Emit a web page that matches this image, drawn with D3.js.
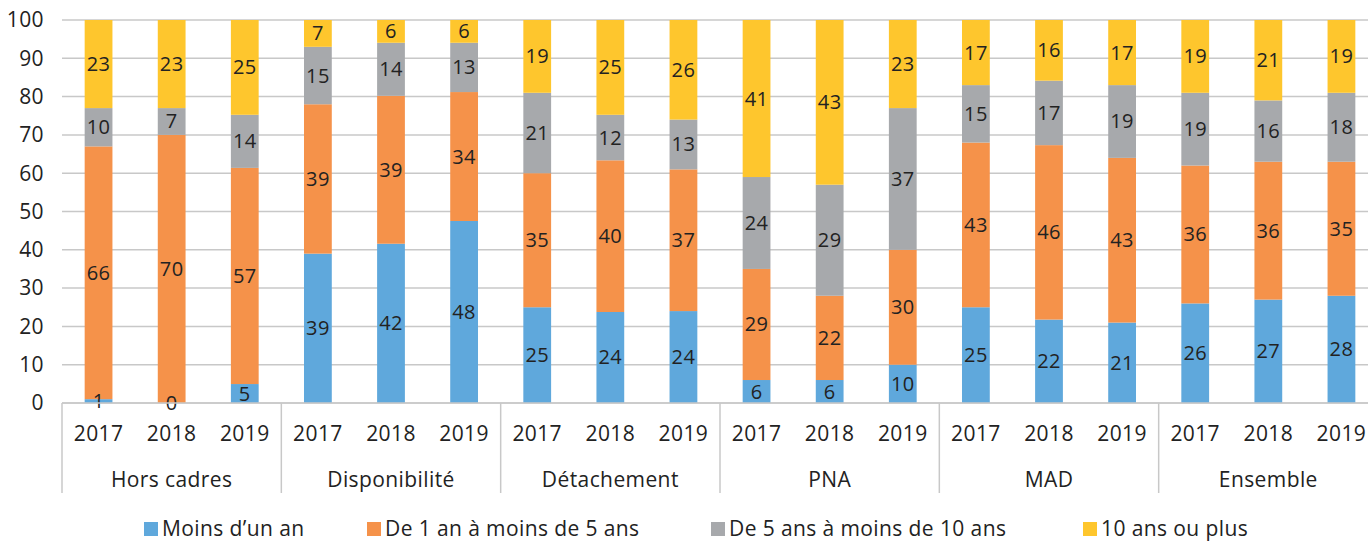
<!DOCTYPE html>
<html>
<head>
<meta charset="utf-8">
<script src="https://cdn.jsdelivr.net/npm/d3@7"></script>
<style>
  body { margin: 0; background: #fff; }
  text { font-family: "Open Sans", sans-serif; fill: #222; letter-spacing: 0.4px; }
</style>
</head>
<body>
<div id="plot"></div>
<script>
const groups = ["Hors cadres", "Disponibilité", "Détachement", "PNA", "MAD", "Ensemble"];
const years = ["2017", "2018", "2019"];
const seriesNames = ["Moins d’un an", "De 1 an à moins de 5 ans", "De 5 ans à moins de 10 ans", "10 ans ou plus"];
const colors = ["#5fa8dc", "#f5924a", "#a7a9ac", "#fec62d"];

// values per group, in year order
const moinsUnAn   = [[1, 0, 5], [39, 42, 48], [25, 24, 24], [6, 6, 10], [25, 22, 21], [26, 27, 28]];
const unACinq     = [[66, 70, 57], [39, 39, 34], [35, 40, 37], [29, 22, 30], [43, 46, 43], [36, 36, 35]];
const cinqADix    = [[10, 7, 14], [15, 14, 13], [21, 12, 13], [24, 29, 37], [15, 17, 19], [19, 16, 18]];
const dixEtPlus   = [[23, 23, 25], [7, 6, 6], [19, 25, 26], [41, 43, 23], [17, 16, 17], [19, 21, 19]];
const yTicks = [0, 10, 20, 30, 40, 50, 60, 70, 80, 90, 100];

const seriesVals = [moinsUnAn, unACinq, cinqADix, dixEtPlus];

const rows = [];
groups.forEach((g, gi) => years.forEach((yr, yi) => {
  const row = {group: g, year: yr};
  seriesNames.forEach((s, si) => row[s] = seriesVals[si][gi][yi]);
  rows.push(row);
}));

const W = 1368, H = 541;
const plotLeft = 62, plotTop = 20, plotBottom = 403;

const svg = d3.select("#plot").append("svg")
  .attr("width", W).attr("height", H);

const x0 = d3.scaleBand().domain(groups).range([plotLeft, 1378]);
const x1 = d3.scaleBand().domain(years).range([0, x0.bandwidth()])
  .paddingInner(0.62).paddingOuter(0.31);
const y = d3.scaleLinear().domain([0, 100]).range([plotBottom, plotTop]);

// gridlines
svg.append("g").selectAll("line")
  .data(yTicks)
  .join("line")
    .attr("x1", plotLeft).attr("x2", W)
    .attr("y1", d => y(d)).attr("y2", d => y(d))
    .attr("stroke", "#c8c8c8").attr("stroke-width", 1.5);

// y labels
svg.append("g").selectAll("text")
  .data(yTicks)
  .join("text")
    .attr("x", 44).attr("y", d => y(d))
    .attr("dy", "0.35em")
    .attr("text-anchor", "end")
    .style("font-size", "21px")
    .text(d => d);

const stack = d3.stack().keys(seriesNames).offset(d3.stackOffsetExpand);
const stacked = stack(rows);

const layers = svg.append("g").selectAll("g")
  .data(stacked)
  .join("g")
    .attr("fill", (d, i) => colors[i]);

layers.selectAll("rect")
  .data(d => d)
  .join("rect")
    .attr("x", d => x0(d.data.group) + x1(d.data.year))
    .attr("width", x1.bandwidth())
    .attr("y", d => y(d[1] * 100))
    .attr("height", d => y(d[0] * 100) - y(d[1] * 100));

// segment labels
svg.append("g").selectAll("g")
  .data(stacked)
  .join("g")
  .selectAll("text")
  .data(d => d.map(p => ({p, key: d.key})))
  .join("text")
    .attr("x", d => x0(d.p.data.group) + x1(d.p.data.year) + x1.bandwidth() / 2)
    .attr("y", d => y((d.p[0] + d.p[1]) * 50))
    .attr("dy", "0.35em")
    .attr("text-anchor", "middle")
    .style("font-size", "20px")
    .text(d => d.p.data[d.key]);

// x axis base line
svg.append("line")
  .attr("x1", plotLeft).attr("x2", W)
  .attr("y1", plotBottom).attr("y2", plotBottom)
  .attr("stroke", "#c8c8c8").attr("stroke-width", 1.5);

// group dividers
svg.append("g").selectAll("line")
  .data(groups)
  .join("line")
    .attr("x1", d => x0(d)).attr("x2", d => x0(d))
    .attr("y1", plotBottom).attr("y2", 493)
    .attr("stroke", "#c8c8c8").attr("stroke-width", 1.5);

// year labels
const gLab = svg.append("g").selectAll("g")
  .data(groups)
  .join("g")
    .attr("transform", d => `translate(${x0(d)},0)`);

gLab.selectAll("text.yr")
  .data(years)
  .join("text")
    .attr("class", "yr")
    .attr("x", d => x1(d) + x1.bandwidth() / 2)
    .attr("y", 434)
    .attr("dy", "0.35em")
    .attr("text-anchor", "middle")
    .style("font-size", "21px")
    .text(d => d);

gLab.append("text")
  .attr("x", x0.bandwidth() / 2)
  .attr("y", 480)
  .attr("dy", "0.35em")
  .attr("text-anchor", "middle")
  .style("font-size", "21px")
  .text(d => d);

// legend
const legendX = [144, 367, 711, 1083];
const leg = svg.append("g").selectAll("g")
  .data(seriesNames)
  .join("g")
    .attr("transform", (d, i) => `translate(${legendX[i]},529)`);
leg.append("rect")
  .attr("x", 0).attr("y", -7)
  .attr("width", 14).attr("height", 14)
  .attr("fill", (d, i) => colors[i]);
leg.append("text")
  .attr("x", 18).attr("y", 0)
  .attr("dy", "0.35em")
  .style("font-size", "21px")
  .text(d => d);
</script>
</body>
</html>
